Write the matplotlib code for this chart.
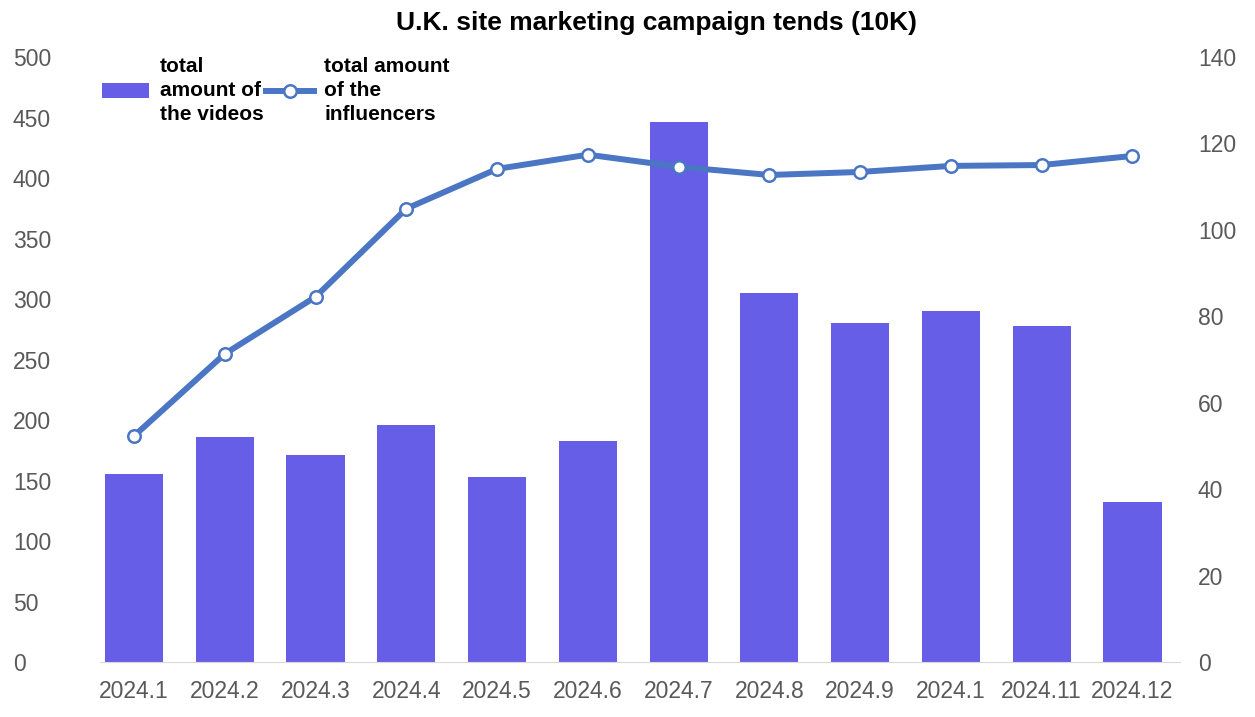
import matplotlib
matplotlib.use("Agg")
import matplotlib.pyplot as plt

months = ["2024.1", "2024.2", "2024.3", "2024.4", "2024.5", "2024.6",
          "2024.7", "2024.8", "2024.9", "2024.1", "2024.11", "2024.12"]
videos = [155, 186, 171, 196, 153, 183, 446, 305, 280, 290, 278, 132]
influencers = [52.3, 71.3, 84.5, 104.9, 114.1, 117.4, 114.6, 112.7, 113.4, 114.8, 115.0, 117.1]

bar_color = "#665ee6"
line_color = "#4a76c4"
tick_color = "#595959"

plt.rcParams["font.family"] = ["Liberation Sans", "DejaVu Sans"]

fig = plt.figure(figsize=(12.55, 7.17), dpi=100)
ax = fig.add_axes([0.08, 0.0767, 0.86, 0.8438])
ax2 = ax.twinx()

x = list(range(len(months)))
bars = ax.bar(x, videos, width=0.64, color=bar_color, zorder=2,
              label="total\namount of\nthe videos")
line, = ax2.plot(x, influencers, color=line_color, lw=4.3, marker="o",
                 markersize=9, markerfacecolor="white", markeredgecolor=line_color,
                 markeredgewidth=1.8, zorder=3, label="total amount\nof the\ninfluencers")

ax.set_xlim(-0.37, 11.52)
ax.set_ylim(0, 500)
ax2.set_ylim(0, 140)
ax.set_yticks(range(0, 501, 50))
ax2.set_yticks(range(0, 141, 20))
ax.set_xticks(x)
ax.set_xticklabels(months)

for a in (ax, ax2):
    for s in a.spines.values():
        s.set_visible(False)
    a.tick_params(length=0, labelsize=16.5, labelcolor=tick_color)
ax.spines["bottom"].set_visible(True)
ax.spines["bottom"].set_color("#d9d9d9")

# left labels sit flush against the figure edge
ax.tick_params(axis="y", pad=63)
for lbl in ax.get_yticklabels():
    lbl.set_horizontalalignment("left")
ax.tick_params(axis="x", pad=13, labelsize=16.5)
ax2.tick_params(axis="y", pad=13)

fig.suptitle("U.K. site marketing campaign tends (10K)", fontsize=19, fontweight="bold",
             y=0.985, x=0.523)

leg = fig.legend(handles=[bars, line], loc="upper left", bbox_to_anchor=(0.066, 0.947),
                 ncol=2, frameon=False, fontsize=15, handlelength=2.3,
                 columnspacing=0.1, handletextpad=0.5)
for t in leg.get_texts():
    t.set_fontweight("bold")
    t.set_linespacing(1.35)

fig.savefig("out.png", dpi=100)
